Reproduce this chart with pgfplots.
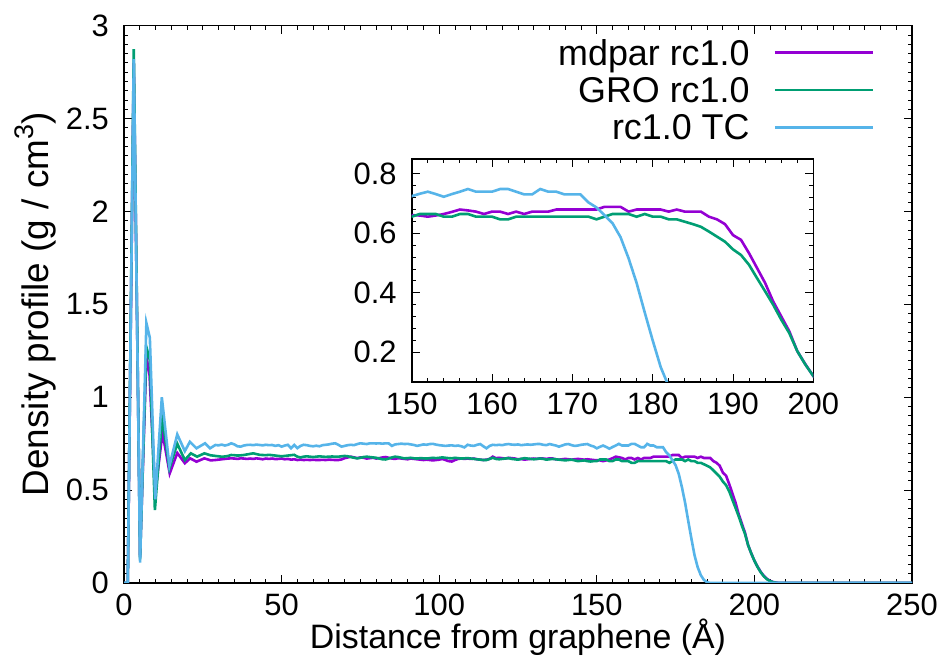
\documentclass[border=0pt]{standalone}
\usepackage{fontspec}
\setmainfont{Liberation Sans}
\usepackage{pgfplots}
\usepackage{pgfplotstable}
\pgfplotsset{compat=1.18}
\definecolor{cpur}{HTML}{9400D3}
\definecolor{cgre}{HTML}{009E73}
\definecolor{cblu}{HTML}{56B4E9}
\newcommand{\tickfont}{\fontsize{31}{36}\selectfont}
\newcommand{\labfont}{\fontsize{37}{42}\selectfont}
\newcommand{\xlabfont}{\fontsize{34}{38}\selectfont}
\newcommand{\legfont}{\fontsize{36}{40}\selectfont}

\pgfplotstableread[row sep=\\]{
x y\\
0 0\\ 1.2 0\\ 3.1 2.80\\ 5.1 0.14\\ 7.1 1.22\\ 8.1 1.12\\ 9.9 0.48\\ 12.2 0.81\\ 14.5 0.59\\ 16.9 0.70\\ 19.3 0.645\\ 21 0.671\\ 23 0.653\\ 25.5 0.671\\ 27.5 0.660\\
29 0.662\\ 30 0.664\\ 31 0.666\\ 32 0.668\\ 33 0.670\\ 34 0.671\\ 35 0.670\\ 36 0.668\\ 37 0.671\\ 38 0.670\\ 39 0.668\\
40 0.670\\ 41 0.668\\ 42 0.671\\ 43 0.669\\ 44 0.666\\ 45 0.670\\ 46 0.668\\ 47 0.670\\ 48 0.667\\ 49 0.668\\
50 0.670\\ 51 0.666\\ 52 0.668\\ 53 0.664\\ 54 0.666\\ 55 0.662\\ 56 0.664\\ 57 0.662\\ 58 0.663\\ 59 0.662\\
60 0.663\\ 61 0.662\\ 62 0.662\\ 63 0.663\\ 64 0.662\\ 65 0.664\\ 66 0.663\\ 67 0.662\\ 68 0.662\\ 69 0.665\\
70 0.672\\ 71 0.676\\ 72 0.680\\ 73 0.676\\ 74 0.672\\ 75 0.676\\ 76 0.674\\ 77 0.670\\ 78 0.672\\ 79 0.674\\
80 0.670\\ 81 0.672\\ 82 0.676\\ 83 0.678\\ 84 0.674\\ 85 0.670\\ 86 0.668\\ 87 0.672\\ 88 0.670\\ 89 0.668\\
90 0.666\\ 91 0.670\\ 92 0.668\\ 93 0.666\\ 94 0.664\\ 95 0.662\\ 96 0.664\\ 97 0.662\\ 98 0.660\\ 99 0.662\\
100 0.664\\ 101 0.668\\ 102 0.662\\ 103 0.656\\ 104 0.654\\ 105 0.662\\ 106 0.668\\ 107 0.670\\ 108 0.668\\ 109 0.670\\
110 0.668\\ 111 0.670\\ 112 0.666\\ 113 0.664\\ 114 0.662\\ 115 0.664\\ 116 0.668\\ 117 0.680\\ 118 0.672\\ 119 0.674\\
120 0.672\\ 121 0.670\\ 122 0.674\\ 123 0.672\\ 124 0.670\\ 125 0.666\\ 126 0.668\\ 127 0.664\\ 128 0.666\\ 129 0.668\\
130 0.670\\ 131 0.668\\ 132 0.671\\ 133 0.670\\ 134 0.668\\ 135 0.671\\ 136 0.670\\ 137 0.666\\ 138 0.664\\ 139 0.666\\
140 0.668\\ 141 0.666\\ 142 0.664\\ 143 0.666\\ 144 0.668\\ 145 0.666\\ 146 0.664\\ 147 0.666\\ 148 0.664\\ 149 0.662\\
150 0.661\\ 151 0.660\\ 152 0.656\\ 153 0.660\\ 154 0.665\\ 155 0.672\\ 156 0.680\\ 157 0.677\\ 158 0.673\\ 159 0.665\\
160 0.673\\ 161 0.673\\ 162 0.665\\ 163 0.673\\ 164 0.665\\ 165 0.673\\ 166 0.673\\ 167 0.673\\ 168 0.680\\ 169 0.680\\
170 0.680\\ 171 0.680\\ 172 0.680\\ 173 0.680\\ 174 0.689\\ 175 0.689\\ 176 0.689\\ 177 0.673\\ 178 0.680\\ 179 0.680\\
180 0.680\\ 181 0.680\\ 182 0.673\\ 183 0.680\\ 184 0.673\\ 185 0.673\\ 186 0.673\\ 187 0.656\\ 188 0.647\\ 189 0.631\\
190 0.594\\ 191 0.578\\ 192 0.533\\ 193 0.483\\ 194 0.433\\ 195 0.371\\ 196 0.321\\ 197 0.271\\ 198 0.204\\ 199 0.160\\
200 0.120\\ 201 0.088\\ 202 0.060\\ 203 0.038\\ 204 0.022\\ 205 0.011\\ 206 0.005\\ 207 0.002\\ 208 0\\ 250 0\\
}\tpur

\pgfplotstableread[row sep=\\]{
x y\\
0 0\\ 1.2 0\\ 3.1 2.874\\ 5.1 0.127\\ 7.1 1.27\\ 8.2 1.20\\ 9.8 0.393\\ 12.1 0.895\\ 14.4 0.617\\ 16.9 0.75\\ 19.3 0.662\\ 21.2 0.698\\ 23.2 0.680\\ 25.5 0.698\\ 27.3 0.688\\
29 0.684\\ 30 0.682\\ 31 0.680\\ 32 0.681\\ 33 0.684\\ 34 0.689\\ 35 0.688\\ 36 0.686\\ 37 0.687\\ 38 0.689\\ 39 0.692\\
40 0.695\\ 41 0.698\\ 42 0.694\\ 43 0.690\\ 44 0.689\\ 45 0.688\\ 46 0.690\\ 47 0.688\\ 48 0.686\\ 49 0.684\\
50 0.682\\ 51 0.684\\ 52 0.686\\ 53 0.688\\ 54 0.690\\ 55 0.680\\ 56 0.676\\ 57 0.680\\ 58 0.682\\ 59 0.680\\
60 0.678\\ 61 0.680\\ 62 0.682\\ 63 0.680\\ 64 0.679\\ 65 0.680\\ 66 0.681\\ 67 0.680\\ 68 0.680\\ 69 0.682\\
70 0.684\\ 71 0.682\\ 72 0.678\\ 73 0.674\\ 74 0.671\\ 75 0.674\\ 76 0.678\\ 77 0.680\\ 78 0.678\\ 79 0.676\\
80 0.674\\ 81 0.670\\ 82 0.666\\ 83 0.665\\ 84 0.670\\ 85 0.676\\ 86 0.680\\ 87 0.678\\ 88 0.674\\ 89 0.671\\
90 0.672\\ 91 0.674\\ 92 0.671\\ 93 0.670\\ 94 0.672\\ 95 0.671\\ 96 0.670\\ 97 0.672\\ 98 0.674\\ 99 0.672\\
100 0.674\\ 101 0.676\\ 102 0.674\\ 103 0.672\\ 104 0.671\\ 105 0.674\\ 106 0.672\\ 107 0.670\\ 108 0.671\\ 109 0.672\\
110 0.670\\ 111 0.668\\ 112 0.666\\ 113 0.664\\ 114 0.662\\ 115 0.662\\ 116 0.668\\ 117 0.674\\ 118 0.668\\ 119 0.666\\
120 0.668\\ 121 0.670\\ 122 0.672\\ 123 0.668\\ 124 0.666\\ 125 0.664\\ 126 0.668\\ 127 0.672\\ 128 0.670\\ 129 0.668\\
130 0.666\\ 131 0.668\\ 132 0.670\\ 133 0.668\\ 134 0.664\\ 135 0.666\\ 136 0.668\\ 137 0.666\\ 138 0.664\\ 139 0.662\\
140 0.660\\ 141 0.662\\ 142 0.664\\ 143 0.660\\ 144 0.656\\ 145 0.658\\ 146 0.660\\ 147 0.656\\ 148 0.654\\ 149 0.656\\
150 0.656\\ 151 0.665\\ 152 0.665\\ 153 0.665\\ 154 0.656\\ 155 0.656\\ 156 0.665\\ 157 0.665\\ 158 0.656\\ 159 0.656\\
160 0.656\\ 161 0.647\\ 162 0.647\\ 163 0.656\\ 164 0.656\\ 165 0.656\\ 166 0.656\\ 167 0.656\\ 168 0.656\\ 169 0.656\\
170 0.656\\ 171 0.656\\ 172 0.656\\ 173 0.647\\ 174 0.656\\ 175 0.665\\ 176 0.665\\ 177 0.665\\ 178 0.656\\ 179 0.665\\
180 0.656\\ 181 0.656\\ 182 0.647\\ 183 0.647\\ 184 0.639\\ 185 0.631\\ 186 0.622\\ 187 0.606\\ 188 0.589\\ 189 0.572\\
190 0.546\\ 191 0.527\\ 192 0.494\\ 193 0.449\\ 194 0.405\\ 195 0.360\\ 196 0.310\\ 197 0.265\\ 198 0.204\\ 199 0.159\\
200 0.120\\ 201 0.086\\ 202 0.058\\ 203 0.036\\ 204 0.020\\ 205 0.010\\ 206 0.004\\ 207 0.001\\ 208 0\\ 250 0\\
}\tgre

\pgfplotstableread[row sep=\\]{
x y\\
0 0\\ 1.2 0\\ 3.1 2.82\\ 5.1 0.11\\ 7.1 1.40\\ 8.2 1.32\\ 9.9 0.45\\ 12 1.00\\ 14.4 0.63\\ 16.9 0.80\\ 19.3 0.71\\ 20.9 0.76\\ 23 0.725\\ 25.7 0.752\\ 27.3 0.725\\
29 0.743\\ 30 0.741\\ 31 0.745\\ 32 0.740\\ 33 0.744\\ 34 0.752\\ 35 0.746\\ 36 0.736\\ 37 0.734\\ 38 0.740\\ 39 0.743\\
40 0.744\\ 41 0.742\\ 42 0.745\\ 43 0.743\\ 44 0.741\\ 45 0.744\\ 46 0.742\\ 47 0.743\\ 48 0.738\\ 49 0.742\\
50 0.734\\ 51 0.740\\ 52 0.744\\ 53 0.725\\ 54 0.743\\ 55 0.726\\ 56 0.738\\ 57 0.744\\ 58 0.742\\ 59 0.738\\
60 0.736\\ 61 0.739\\ 62 0.736\\ 63 0.742\\ 64 0.744\\ 65 0.746\\ 66 0.750\\ 67 0.752\\ 68 0.744\\ 69 0.734\\
70 0.738\\ 71 0.742\\ 72 0.744\\ 73 0.742\\ 74 0.748\\ 75 0.752\\ 76 0.750\\ 77 0.748\\ 78 0.752\\ 79 0.752\\
80 0.751\\ 81 0.752\\ 82 0.750\\ 83 0.752\\ 84 0.751\\ 85 0.738\\ 86 0.746\\ 87 0.748\\ 88 0.750\\ 89 0.748\\
90 0.749\\ 91 0.746\\ 92 0.743\\ 93 0.738\\ 94 0.742\\ 95 0.746\\ 96 0.744\\ 97 0.748\\ 98 0.749\\ 99 0.745\\
100 0.742\\ 101 0.740\\ 102 0.738\\ 103 0.740\\ 104 0.741\\ 105 0.738\\ 106 0.740\\ 107 0.736\\ 108 0.730\\ 109 0.744\\
110 0.740\\ 111 0.738\\ 112 0.744\\ 113 0.748\\ 114 0.736\\ 115 0.725\\ 116 0.738\\ 117 0.744\\ 118 0.742\\ 119 0.744\\
120 0.742\\ 121 0.746\\ 122 0.748\\ 123 0.745\\ 124 0.744\\ 125 0.746\\ 126 0.742\\ 127 0.744\\ 128 0.746\\ 129 0.744\\
130 0.746\\ 131 0.748\\ 132 0.748\\ 133 0.744\\ 134 0.742\\ 135 0.748\\ 136 0.744\\ 137 0.740\\ 138 0.734\\ 139 0.740\\
140 0.746\\ 141 0.748\\ 142 0.742\\ 143 0.738\\ 144 0.740\\ 145 0.744\\ 146 0.746\\ 147 0.748\\ 148 0.740\\ 149 0.735\\
150 0.725\\ 151 0.733\\ 152 0.740\\ 153 0.732\\ 154 0.723\\ 155 0.732\\ 156 0.740\\ 157 0.749\\ 158 0.740\\ 159 0.740\\
160 0.740\\ 161 0.749\\ 162 0.749\\ 163 0.740\\ 164 0.731\\ 165 0.731\\ 166 0.749\\ 167 0.740\\ 168 0.740\\ 169 0.731\\
170 0.731\\ 171 0.731\\ 172 0.704\\ 173 0.687\\ 174 0.661\\ 175 0.634\\ 176 0.587\\ 177 0.516\\ 178 0.433\\ 179 0.335\\
180 0.240\\ 181 0.150\\ 182 0.085\\ 183 0.042\\ 184 0.016\\ 185 0.004\\ 186 0\\ 250 0\\
}\tblu

\pgfplotsset{
  gpstyle/.style={
    scale only axis,
    tick align=inside,
    axis line style={line width=1.6bp},
    every tick/.style={black, line width=0.9bp},
    /pgf/number format/assume math mode=true,
    ticklabel style={font=\tickfont},
    xticklabel style={inner sep=0pt, yshift=-11bp},
    yticklabel style={inner sep=0pt, xshift=-15bp},
  },
  dline/.style={line width=2.6bp},
}

\begin{document}
\begin{tikzpicture}
\begin{axis}[gpstyle,
  at={(124bp,73bp)}, anchor=south west,
  width=788bp, height=557.3bp,
  xmin=0, xmax=250, ymin=0, ymax=3,
  xtick={0,50,100,150,200,250}, ytick={0,0.5,1,1.5,2,2.5,3},
  minor x tick num=9, minor y tick num=9,
  major tick length=8bp, minor tick length=4bp,
  xlabel={Distance from graphene (Å)},
  ylabel={Density profile (g / cm\raisebox{0.42em}{\fontsize{27}{27}\selectfont 3})},
  ylabel style={font=\labfont, at={(axis description cs:-0.0952,0.5)}, anchor=base},
  xlabel style={font=\xlabfont, at={(axis description cs:0.5,-0.1184)}, anchor=base},
  legend cell align=right,
  legend plot pos=right,
  legend image code/.code={\draw[#1] (0bp,0bp) -- (97.7bp,0bp);},
  legend style={draw=none, fill=none, font=\legfont, at={(axis description cs:0.9516,0.9774)}, anchor=north east,
    inner sep=0pt, outer sep=0pt, row sep=8.3bp, column sep=24bp,
    nodes={inner sep=0pt, text height=27bp, text depth=2bp}},
]
\addplot[cpur, dline] table[x=x,y=y] {\tpur};
\addlegendentry{mdpar rc1.0}
\addplot[cgre, dline] table[x=x,y=y] {\tgre};
\addlegendentry{GRO rc1.0}
\addplot[cblu, dline] table[x=x,y=y] {\tblu};
\addlegendentry{rc1.0 TC}
\end{axis}
\begin{axis}[gpstyle,
  at={(411.7bp,274bp)}, anchor=south west,
  width=401.6bp, height=223bp,
  xmin=150, xmax=200, ymin=0.1, ymax=0.85,
  xtick={150,160,170,180,190,200}, ytick={0.2,0.4,0.6,0.8},
  minor x tick num=4, minor y tick num=4,
  major tick length=8bp, minor tick length=4bp,
  axis background/.style={fill=white},
  yticklabel style={/pgf/number format/fixed, /pgf/number format/precision=1},
]
\addplot[cpur, dline] table[x=x,y=y] {\tpur};
\addplot[cgre, dline] table[x=x,y=y] {\tgre};
\addplot[cblu, dline] table[x=x,y=y] {\tblu};
\end{axis}
\pgfresetboundingbox
\path[use as bounding box] (0,0) rectangle (942bp,656bp);
\end{tikzpicture}
\end{document}
